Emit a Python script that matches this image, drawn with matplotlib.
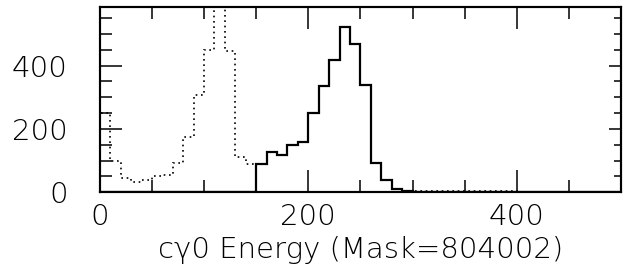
import numpy as np
import matplotlib
matplotlib.use("Agg")
import matplotlib.pyplot as plt
from matplotlib.ticker import MultipleLocator

# bin edges: 0..500 in steps of 10
edges = np.arange(0, 510, 10)

# solid histogram (selected), bins 150..300
solid_start = 150
solid_vals = [88, 126, 117, 149, 159, 250, 335, 416, 522, 469, 340, 91, 39, 9, 3]

# dotted histogram, bins 0..150 then tail
dotted_vals = [250, 100, 45, 33, 38, 50, 55, 91, 175, 306, 450, 720, 445, 112, 88]
dotted_tail_start = 300
dotted_tail = [4, 4, 4, 4, 4, 4, 4, 4, 4, 4]

xlabel = "c\u03b30 Energy (Mask=804002)"


def full(vals, start):
    h = np.zeros(len(edges) - 1)
    i0 = start // 10
    h[i0:i0 + len(vals)] = vals
    return h


solid = full(solid_vals, solid_start)
dotted = full(dotted_vals, 0) + full(dotted_tail, dotted_tail_start)

plt.rcParams['font.family'] = ['DejaVu Sans']
plt.rcParams['font.weight'] = 'light'

fig = plt.figure(figsize=(6.23, 2.77), dpi=100)
ax = fig.add_axes([0.160, 0.306, 0.837, 0.669])

ax.stairs(dotted, edges, color='black', lw=1.2, linestyle=(0, (1, 2.2)))
ax.stairs(solid, edges, color='black', lw=1.6)

ax.set_xlim(0, 500)
ax.set_ylim(0, 585)

ax.xaxis.set_major_locator(MultipleLocator(200))
ax.xaxis.set_minor_locator(MultipleLocator(50))
ax.yaxis.set_major_locator(MultipleLocator(200))
ax.yaxis.set_minor_locator(MultipleLocator(50))

ax.tick_params(which='both', direction='in', top=True, right=False, width=1.1,
               labelsize=21)
ax.tick_params(which='major', length=16)
ax.tick_params(which='minor', length=8.5)
ax.tick_params(axis='y', pad=23)
ax.tick_params(axis='x', pad=8)

ax2 = ax.twinx()
ax2.set_ylim(ax.get_ylim())
ax2.yaxis.set_major_locator(MultipleLocator(200))
ax2.yaxis.set_minor_locator(MultipleLocator(50))
ax2.tick_params(which='both', direction='in', labelright=False, width=1.1)
ax2.tick_params(which='major', length=8.5)
ax2.tick_params(which='minor', length=5)

for a in (ax, ax2):
    for s in a.spines.values():
        s.set_linewidth(1.5)

ax.set_xlabel(xlabel, fontsize=21, fontweight='light', labelpad=3)

fig.savefig("out.png", dpi=100)
